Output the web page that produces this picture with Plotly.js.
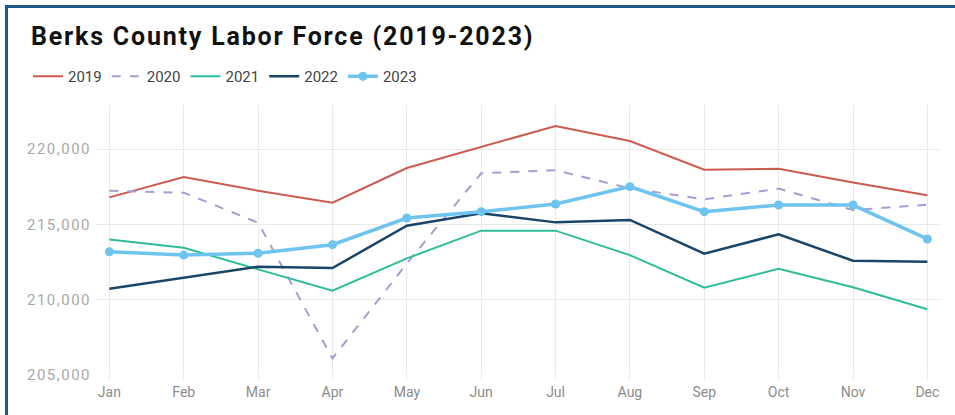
<!DOCTYPE html>
<html>
<head>
<meta charset="utf-8">
<script src="https://cdn.plot.ly/plotly-3.0.1.min.js"></script>
<style>
  html, body { margin: 0; padding: 0; background: #fff; }
  #wrap { position: relative; width: 955px; height: 415px; overflow: hidden; }
  #chart { position: absolute; left: 0; top: 0; width: 955px; height: 415px; }
  #frame { position: absolute; left: 5px; top: 5px; width: 960px; height: 420px;
           border-top: 3px solid #1d5a86; border-left: 3px solid #1d5a86; pointer-events: none; }
  #chart .gtitle { letter-spacing: 1.8px; }
  #chart .ytick text { letter-spacing: 1.5px; }
</style>
</head>
<body>
<div id="wrap"><div id="chart"></div><div id="frame"></div></div>
<script>
const months = ["Jan","Feb","Mar","Apr","May","Jun","Jul","Aug","Sep","Oct","Nov","Dec"];
const y2019 = [216790, 218140, 217230, 216440, 218740, 220150, 221530, 220530, 218630, 218690, 217770, 216930];
const y2020 = [217230, 217100, 215110, 206100, 212400, 218390, 218590, 217390, 216660, 217370, 215950, 216300];
const y2021 = [214000, 213450, 212010, 210590, 212740, 214580, 214580, 212960, 210790, 212050, 210820, 209360];
const y2022 = [210730, 211460, 212190, 212100, 214910, 215730, 215130, 215290, 213050, 214340, 212580, 212520];
const y2023 = [213180, 212960, 213080, 213650, 215420, 215840, 216350, 217500, 215840, 216280, 216280, 214030];
const yTicks = [205000, 210000, 215000, 220000];
const yTickText = ["205,000", "210,000", "215,000", "220,000"];

const traces = [
  {x: months, y: y2019, name: "2019", mode: "lines", line: {color: "#cc5a4f", width: 2}},
  {x: months, y: y2020, name: "2020", mode: "lines", line: {color: "#a89dd0", width: 2, dash: "dash"}},
  {x: months, y: y2021, name: "2021", mode: "lines", line: {color: "#2dbd99", width: 2}},
  {x: months, y: y2022, name: "2022", mode: "lines", line: {color: "#1a4568", width: 2.5}},
  {x: months, y: y2023, name: "2023", mode: "lines+markers", line: {color: "#6ec4ef", width: 3.5},
   marker: {color: "#6ec4ef", size: 9}}
];

const layout = {
  width: 955, height: 415,
  margin: {l: 96, r: 15, t: 105, b: 40},
  paper_bgcolor: "#ffffff", plot_bgcolor: "#ffffff",
  font: {family: "Roboto, sans-serif", color: "#444"},
  title: {text: "<b>Berks County Labor Force (2019-2023)</b>", font: {size: 25, color: "#111", family: "Roboto, sans-serif"},
          x: 31/955, xref: "container", xanchor: "left", y: 1 - 27/415, yref: "container", yanchor: "top"},
  showlegend: true,
  legend: {orientation: "h", xref: "container", yref: "container", x: 28/955, y: 1 - 60/415,
           xanchor: "left", yanchor: "top", font: {size: 15, color: "#444"}, itemgap: 0, itemwidth: 30,
           bgcolor: "rgba(0,0,0,0)"},
  xaxis: {type: "category", range: [-0.18, 11.17], showgrid: true, gridcolor: "#e9e9e9", gridwidth: 1,
          zeroline: false, showline: false, ticks: "outside", ticklen: 4, tickcolor: "#e9e9e9",
          tickfont: {size: 14, color: "#8c8c8c"}, fixedrange: true},
  yaxis: {range: [205000, 222920], tickvals: yTicks, ticktext: yTickText, showgrid: true, gridcolor: "#e9e9e9",
          zeroline: false, showline: false, ticks: "", ticklabelstandoff: 4,
          tickfont: {size: 15, color: "#a8a8a8"}, fixedrange: true},
  hovermode: false
};

Plotly.newPlot("chart", traces, layout, {displayModeBar: false, staticPlot: true});
</script>
</body>
</html>
